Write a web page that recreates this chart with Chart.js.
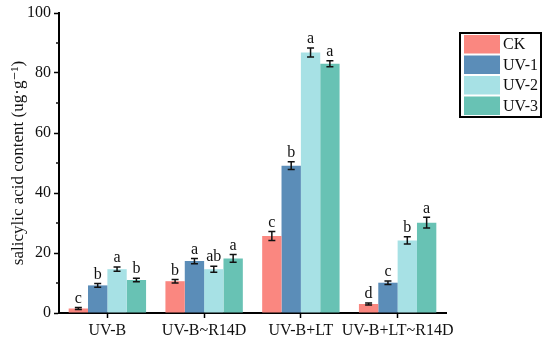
<!DOCTYPE html>
<html>
<head>
<meta charset="utf-8">
<script src="https://cdn.jsdelivr.net/npm/chart.js@4.4.0/dist/chart.umd.min.js"></script>
<style>
  html, body { margin: 0; padding: 0; background: #fff; }
  #wrap { width: 550px; height: 344px; position: relative; }
</style>
</head>
<body>
<div id="wrap"><canvas id="saChart"></canvas></div>
<script>
// treatments on the x axis
const categories = ['UV-B', 'UV-B~R14D', 'UV-B+LT', 'UV-B+LT~R14D'];
const seriesNames = ['CK', 'UV-1', 'UV-2', 'UV-3'];
const seriesColors = ['#FA8780', '#5B8DB8', '#A7E1E5', '#68C2B4'];

// salicylic acid content, one array per series (ug/g)
const ckValues  = [1.5, 10.6, 25.7, 3.0];
const uv1Values = [9.2, 17.3, 49.1, 10.1];
const uv2Values = [14.6, 14.6, 86.8, 24.2];
const uv3Values = [11.0, 18.2, 83.1, 30.1];

// standard errors
const ckErr  = [0.3, 0.6, 1.5, 0.3];
const uv1Err = [0.6, 0.9, 1.3, 0.6];
const uv2Err = [0.7, 1.0, 1.5, 1.2];
const uv3Err = [0.6, 1.3, 1.0, 1.8];

// significance letters
const ckLetters  = ['c', 'b', 'c', 'd'];
const uv1Letters = ['b', 'a', 'b', 'c'];
const uv2Letters = ['a', 'ab', 'a', 'b'];
const uv3Letters = ['b', 'a', 'a', 'a'];

const yTicks = [0, 20, 40, 60, 80, 100];
const yMinorTicks = [10, 30, 50, 70, 90];

const allValues = [ckValues, uv1Values, uv2Values, uv3Values];
const allErrors = [ckErr, uv1Err, uv2Err, uv3Err];
const allLetters = [ckLetters, uv1Letters, uv2Letters, uv3Letters];

const serif = '"Liberation Serif", "DejaVu Serif", serif';

// error bars, letters, minor ticks and the boxed legend
const extrasPlugin = {
    id: 'extras',
    afterDatasetsDraw(chart) {
        const ctx = chart.ctx;
        const yScale = chart.scales.y;
        ctx.save();
        ctx.strokeStyle = '#111';
        ctx.fillStyle = '#111';
        ctx.lineWidth = 1.5;
        ctx.font = '16px ' + serif;
        ctx.textAlign = 'center';
        ctx.textBaseline = 'bottom';
        chart.data.datasets.forEach((ds, di) => {
            const meta = chart.getDatasetMeta(di);
            meta.data.forEach((bar, i) => {
                const v = allValues[di][i];
                const e = allErrors[di][i];
                const yTop = yScale.getPixelForValue(v + e);
                const yBot = yScale.getPixelForValue(v - e);
                const x = bar.x;
                ctx.beginPath();
                ctx.moveTo(x, yTop); ctx.lineTo(x, yBot);
                ctx.moveTo(x - 3.5, yTop); ctx.lineTo(x + 3.5, yTop);
                ctx.moveTo(x - 3.5, yBot); ctx.lineTo(x + 3.5, yBot);
                ctx.stroke();
                ctx.fillText(allLetters[di][i], x, yTop - 1);
            });
        });

        // minor ticks on the y axis
        const xAxis = yScale.right;
        ctx.lineWidth = 1.5;
        yMinorTicks.forEach(t => {
            const py = yScale.getPixelForValue(t);
            ctx.beginPath();
            ctx.moveTo(xAxis - 3, py);
            ctx.lineTo(xAxis, py);
            ctx.stroke();
        });

        // legend
        const lx = 460, ly = 33, lw = 81, rowH = 20.5;
        ctx.lineWidth = 2;
        ctx.strokeStyle = '#000';
        ctx.strokeRect(lx, ly, lw, rowH * seriesNames.length + 2);
        ctx.textAlign = 'left';
        ctx.textBaseline = 'middle';
        ctx.font = '16px ' + serif;
        seriesNames.forEach((name, k) => {
            const ry = ly + 2 + k * rowH;
            ctx.fillStyle = seriesColors[k];
            ctx.fillRect(lx + 4, ry, 36, rowH - 2);
            ctx.fillStyle = '#111';
            ctx.fillText(name, lx + 43, ry + rowH / 2);
        });
        ctx.restore();
    }
};

document.addEventListener('DOMContentLoaded', () => {
    const ctx = document.getElementById('saChart');

    const datasets = seriesNames.map((name, k) => ({
        label: name,
        data: allValues[k],
        backgroundColor: seriesColors[k],
        borderWidth: 0,
        categoryPercentage: 0.8,
        barPercentage: 1.0
    }));

    new Chart(ctx, {
        type: 'bar',
        data: { labels: categories, datasets: datasets },
        options: {
            responsive: true,
            maintainAspectRatio: false,
            animation: false,
            layout: { padding: { top: 13, right: 104, left: 8, bottom: 0 } },
            plugins: {
                legend: { display: false },
                tooltip: { enabled: false }
            },
            scales: {
                x: {
                    grid: {
                        display: true,
                        drawOnChartArea: false,
                        offset: false,
                        tickLength: 5,
                        tickWidth: 1.5,
                        tickColor: '#000'
                    },
                    border: { color: '#000', width: 2 },
                    ticks: {
                        color: '#111',
                        font: { family: serif, size: 16 },
                        padding: 3,
                        maxRotation: 0,
                        autoSkip: false
                    },
                    afterFit: (scale) => { scale.height = 31; }
                },
                y: {
                    min: 0,
                    max: 100,
                    afterBuildTicks: (scale) => {
                        scale.ticks = yTicks.map(v => ({ value: v }));
                    },
                    grid: {
                        display: true,
                        drawOnChartArea: false,
                        tickLength: 5,
                        tickWidth: 1.5,
                        tickColor: '#000'
                    },
                    border: { color: '#000', width: 2 },
                    ticks: {
                        color: '#111',
                        font: { family: serif, size: 16 },
                        padding: 3
                    },
                    title: {
                        display: true,
                        text: 'salicylic acid content (ug\u00B7g\u207B\u00B9)',
                        color: '#111',
                        font: { family: serif, size: 17 },
                        padding: { top: 0, bottom: 2 }
                    },
                    afterFit: (scale) => { scale.width = 51; }
                }
            }
        },
        plugins: [extrasPlugin]
    });
});
</script>
</body>
</html>
